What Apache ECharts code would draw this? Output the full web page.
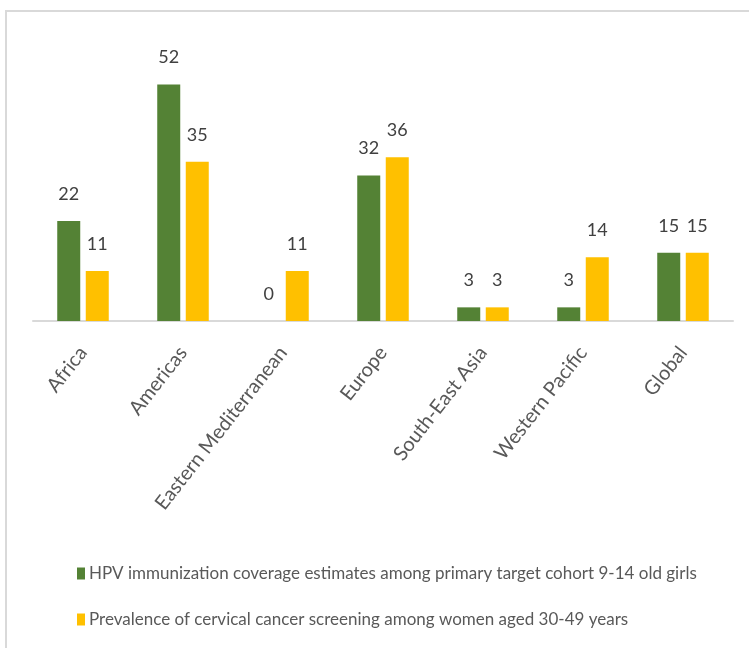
<!DOCTYPE html>
<html>
<head>
<meta charset="utf-8">
<script src="https://cdn.jsdelivr.net/npm/echarts@6/dist/echarts.min.js"></script>
<style>
html,body{margin:0;padding:0;background:#fff;}
#chart{width:749px;height:648px;}
</style>
</head>
<body>
<div id="chart"></div>
<script>
const categories = ["Africa", "Americas", "Eastern Mediterranean", "Europe", "South-East Asia", "Western Pacific", "Global"];
const hpvCoverage = [22, 52, 0, 32, 3, 3, 15];
const screeningPrevalence = [11, 35, 11, 36, 3, 14, 15];
const seriesNames = [
  "HPV immunization coverage estimates among primary target cohort 9-14 old girls",
  "Prevalence of cervical cancer screening among women aged 30-49 years"
];

const FONT = "Lato, 'Open Sans', sans-serif";
const chart = echarts.init(document.getElementById('chart'), null, {renderer: 'canvas'});
const labelCfg = {
  show: true, position: 'top', distance: 18,
  color: '#404040', fontSize: 18, fontFamily: FONT
};
chart.setOption({
  animation: false,
  backgroundColor: '#ffffff',
  graphic: [{
    type: 'polyline',
    shape: {points: [[6, 660], [6, 11], [760, 11]]},
    style: {stroke: '#d9d9d9', lineWidth: 2, fill: null},
    silent: true
  }],
  grid: {left: 33, right: 16, top: 48, bottom: 327, containLabel: false},
  xAxis: {
    type: 'category',
    data: categories,
    axisLine: {show: true, lineStyle: {color: '#d9d9d9', width: 2}},
    axisTick: {show: false},
    axisLabel: {
      rotate: 52, interval: 0, margin: 28,
      color: '#595959', fontSize: 20, fontFamily: FONT
    }
  },
  yAxis: {
    type: 'value', min: 0, max: 60,
    show: false,
    splitLine: {show: false}
  },
  legend: {
    orient: 'vertical',
    left: 72, top: 560,
    itemWidth: 8, itemHeight: 12, itemGap: 29,
    icon: 'rect',
    itemStyle: {borderWidth: 0},
    textStyle: {color: '#595959', fontSize: 17, fontFamily: FONT, padding: [0, 0, 0, -1]},
    data: seriesNames
  },
  series: [
    {
      name: seriesNames[0], type: 'bar', data: hpvCoverage,
      barWidth: '23%', barGap: '24%',
      itemStyle: {color: '#548235'},
      label: labelCfg
    },
    {
      name: seriesNames[1], type: 'bar', data: screeningPrevalence,
      barWidth: '23%', barGap: '24%',
      itemStyle: {color: '#ffc000'},
      label: labelCfg
    }
  ]
});
</script>
</body>
</html>
